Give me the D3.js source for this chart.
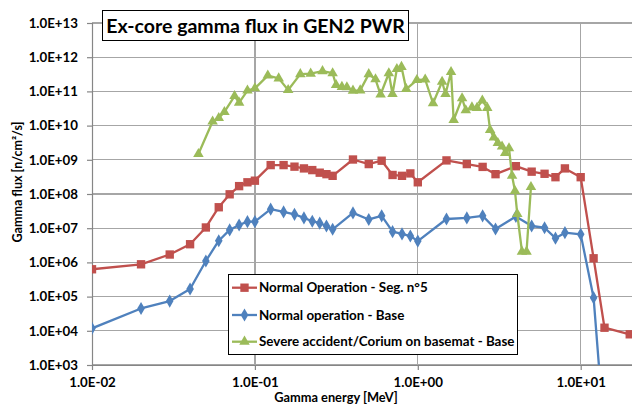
<!DOCTYPE html>
<html><head><meta charset="utf-8">
<script src="https://cdn.jsdelivr.net/npm/d3@7"></script>
<style>
html,body{margin:0;padding:0;background:#fff;}
svg{display:block;font-family:Lato,"Open Sans",sans-serif;}
</style></head>
<body>
<svg id="c" width="632" height="405"></svg>
<script>
// ---- data ----
const chartTitle = "Ex-core gamma flux in GEN2 PWR";
const xTitle = "Gamma energy [MeV]";
const yTitle = "Gamma flux [n/cm²/s]";
const xTickValues = [0.01, 0.1, 1, 10];
const xTickLabels = ["1.0E-02", "1.0E-01", "1.0E+00", "1.0E+01"];
const yTickValues = [1e3,1e4,1e5,1e6,1e7,1e8,1e9,1e10,1e11,1e12,1e13];
const yTickLabels = ["1.0E+03","1.0E+04","1.0E+05","1.0E+06","1.0E+07","1.0E+08","1.0E+09","1.0E+10","1.0E+11","1.0E+12","1.0E+13"];

const seriesNames = ["Normal Operation - Seg. n°5", "Normal operation - Base", "Severe accident/Corium on basemat - Base"];

const normalEnergy = [0.01,0.02,0.03,0.04,0.05,0.06,0.07,0.08,0.09,0.1,0.125,0.15,0.175,0.2,0.225,0.25,0.275,0.3,0.4,0.5,0.6,0.7,0.8,0.9,1.0,1.5,2,2.5,3,4,5,6,7,8,10,12,14,20];
const normalSeg5 = [6.3e5,8.8e5,1.7e6,3.4e6,1.05e7,4.1e7,9.8e7,1.7e8,2.2e8,2.45e8,7.0e8,7.0e8,6.3e8,5.6e8,5.0e8,4.2e8,3.8e8,3.4e8,1.02e9,7.5e8,9.4e8,3.6e8,3.4e8,4.0e8,2.2e8,9.6e8,7.5e8,6.2e8,3.8e8,6.5e8,4.5e8,3.9e8,3.1e8,5.6e8,3.1e8,1.32e6,1.23e4,7.9e3];

const baseEnergy = [0.01,0.02,0.03,0.04,0.05,0.06,0.07,0.08,0.09,0.1,0.125,0.15,0.175,0.2,0.225,0.25,0.275,0.3,0.4,0.5,0.6,0.7,0.8,0.9,1.0,1.5,2,2.5,3,4,5,6,7,8,10,12,14];
const normalBase = [1.18e4,4.5e4,7.4e4,1.67e5,1.1e6,4.3e6,8.9e6,1.24e7,1.55e7,1.55e7,3.6e7,3.0e7,2.55e7,2.0e7,1.6e7,1.4e7,1.16e7,9.3e6,2.8e7,1.8e7,2.3e7,7.9e6,6.8e6,5.9e6,4.2e6,1.86e7,2.0e7,2.3e7,9.5e6,2.2e7,1.16e7,1.03e7,5.1e6,7.4e6,6.6e6,9.3e4,8];

const severeEnergy = [0.045,0.055,0.06,0.065,0.075,0.08,0.09,0.1,0.12,0.14,0.16,0.19,0.22,0.26,0.3,0.315,0.342,0.367,0.4,0.443,0.5,0.55,0.591,0.664,0.699,0.744,0.794,0.849,0.987,1.11,1.24,1.41,1.48,1.6,1.66,1.87,1.97,2.15,2.31,2.49,2.67,2.78,2.93,3.1,3.29,3.44,3.63,3.79,3.95,4.08,4.36,4.65,4.95];
const severeBase = [1.48e9,1.32e10,1.67e10,2.5e10,7.3e10,4.7e10,1.06e11,1.23e11,2.9e11,2.4e11,1.1e11,3.2e11,3.3e11,3.9e11,3.4e11,1.54e11,1.35e11,1.32e11,1.05e11,1.07e11,3.2e11,2.26e11,8.1e10,3.4e11,8.4e10,4.5e11,5.2e11,1.17e11,2.15e11,2.23e11,4.5e10,1.92e11,8.4e10,3.7e11,1.46e10,6.3e10,2.8e10,3.4e10,3.3e10,5.4e10,3.3e10,7.4e9,4.5e9,3.1e9,2.45e9,1.58e9,2.17e9,3.4e8,1.22e8,2.6e7,2.06e6,2.06e6,1.6e8];

const colors = ["#C0504D", "#4F81BD", "#9BBB59"];

// ---- layout ----
const svg = d3.select("#c");
const L = 92, R = 632, T = 23, B = 365;
const x = d3.scaleLog().domain([0.01, 10]).range([L, 580.7]);
const y = d3.scaleLog().domain([1e3, 1e13]).range([B, T]);
const gridCol = "#a6a6a6";

// gridlines
const g = svg.append("g");
g.selectAll("line.h").data(yTickValues).join("line")
  .attr("x1", L).attr("x2", R).attr("y1", d => y(d)).attr("y2", d => y(d))
  .attr("stroke", gridCol).attr("stroke-width", 1.2).attr("shape-rendering","crispEdges");
g.selectAll("line.v").data(xTickValues.slice(1)).join("line")
  .attr("x1", d => x(d)).attr("x2", d => x(d)).attr("y1", T).attr("y2", B)
  .attr("stroke", gridCol).attr("stroke-width", 1.2).attr("shape-rendering","crispEdges");

// axes
const yAxis = d3.axisLeft(y).tickValues(yTickValues).tickSize(5).tickPadding(9)
  .tickFormat((d,i) => yTickLabels[i]);
const ya = svg.append("g").attr("transform", `translate(${L},0)`).call(yAxis);
const xAxis = d3.axisBottom(x).tickValues(xTickValues).tickSize(5).tickPadding(8)
  .tickFormat((d,i) => xTickLabels[i]);
const xa = svg.append("g").attr("transform", `translate(0,${B})`).call(xAxis);
[ya, xa].forEach(a => {
  a.select(".domain").attr("stroke", "#868686").attr("stroke-width", 1.2);
  a.selectAll(".tick line").attr("stroke", "#868686").attr("stroke-width", 1.2);
  a.selectAll("text").attr("fill", "#000").attr("font-size", 13.3).attr("font-weight", "bold")
    .attr("font-family", "Lato, sans-serif");
});
xa.select(".domain").attr("d", `M${L},0.5H${R}`);
ya.select(".domain").attr("d", `M0.5,${T}V${B}`);

// axis titles
svg.append("text").attr("x", 336).attr("y", 401.5).attr("text-anchor", "middle")
  .attr("font-size", 12.8).attr("font-weight", "bold").text(xTitle);
svg.append("text").attr("transform", "translate(22,182) rotate(-90)").attr("text-anchor", "middle")
  .attr("font-size", 12.5).attr("font-weight", "bold").text(yTitle);

// clip
svg.append("clipPath").attr("id", "clip").append("rect")
  .attr("x", L).attr("y", T - 8).attr("width", R - L).attr("height", B - T + 8);

const plot = svg.append("g").attr("clip-path", "url(#clip)");
const line = d3.line().x(d => x(d[0])).y(d => y(d[1]));

const series = [
  {e: normalEnergy, v: normalSeg5, c: colors[0], sym: d3.symbolSquare, size: 70},
  {e: baseEnergy, v: normalBase, c: colors[1], sym: d3.symbolDiamond, size: 50},
  {e: severeEnergy, v: severeBase, c: colors[2], sym: d3.symbolTriangle, size: 48}
];
series.forEach(s => {
  const pts = s.e.map((e, i) => [e, s.v[i]]);
  plot.append("path").attr("d", line(pts)).attr("fill", "none")
    .attr("stroke", s.c).attr("stroke-width", 2.3).attr("stroke-linejoin", "round");
  plot.selectAll(null).data(pts.filter(p => p[1] >= 1e3)).join("path")
    .attr("transform", p => `translate(${x(p[0])},${y(p[1])})`)
    .attr("d", d3.symbol().type(s.sym).size(s.size))
    .attr("fill", s.c);
});

// title box
const tb = svg.append("g");
tb.append("rect").attr("x", 102.5).attr("y", 10.5).attr("width", 306).attr("height", 30)
  .attr("fill", "#fff").attr("stroke", "#000").attr("stroke-width", 1);
tb.append("text").attr("x", 255.5).attr("y", 32.5).attr("text-anchor", "middle")
  .attr("font-size", 19.5).attr("font-weight", "bold").text(chartTitle);

// legend
const lg = svg.append("g");
lg.append("rect").attr("x", 228.5).attr("y", 274.5).attr("width", 289).attr("height", 80)
  .attr("fill", "#fff").attr("stroke", "#000").attr("stroke-width", 1);
const ly = [287.7, 315, 341.7];
series.forEach((s, i) => {
  lg.append("line").attr("x1", 232).attr("x2", 257).attr("y1", ly[i]).attr("y2", ly[i])
    .attr("stroke", s.c).attr("stroke-width", 2.3);
  lg.append("path").attr("transform", `translate(244.5,${ly[i]})`)
    .attr("d", d3.symbol().type(s.sym).size(s.size)).attr("fill", s.c);
  lg.append("text").attr("x", 259).attr("y", ly[i] + 4.7).attr("font-size", 13.4)
    .attr("font-weight", "bold").text(seriesNames[i]);
});
</script>
</body></html>
